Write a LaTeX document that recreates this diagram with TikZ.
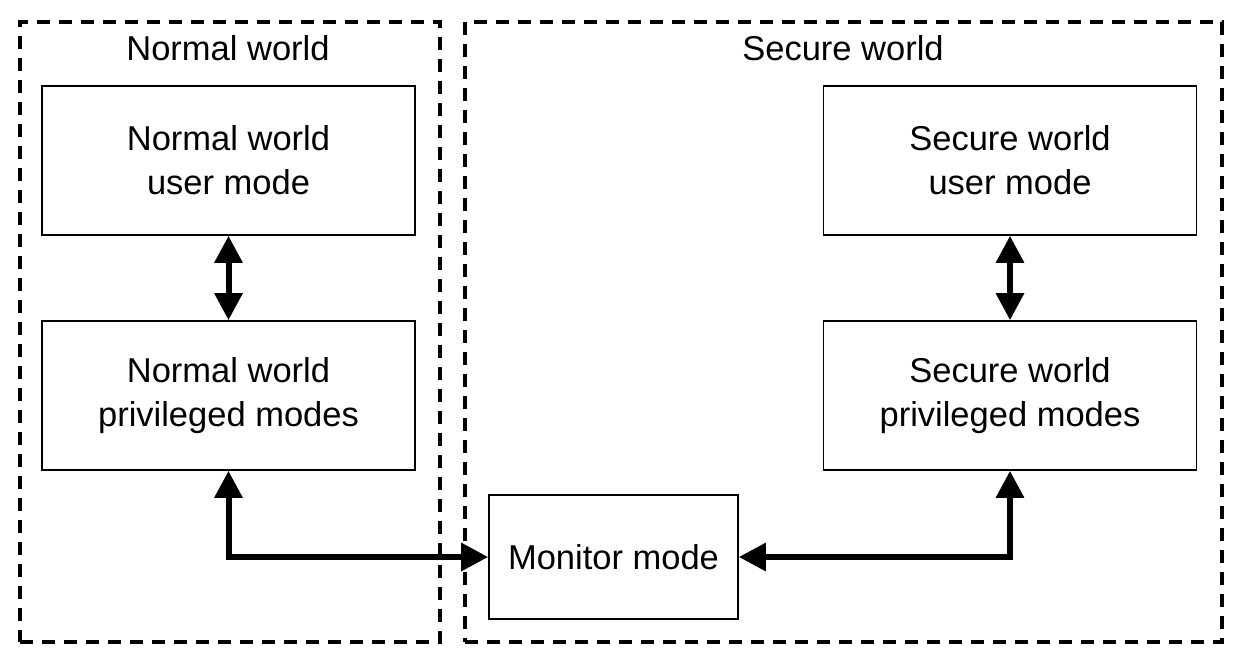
\documentclass[tikz,border=0pt]{standalone}
\usepackage{fontspec}
\setmainfont{Liberation Sans}
\usepackage{tikz}
\usetikzlibrary{arrows.meta}
\tikzstyle{block} = [draw, rectangle, line width=0.8pt, minimum width=186.5pt, minimum height=74.5pt, inner sep=0pt, align=center, font=\fontsize{17.25}{22}\selectfont]
\tikzstyle{world} = [draw, rectangle, dash pattern=on 6.5pt off 4.5pt, line width=1.9pt, inner sep=0pt]
\tikzstyle{title} = [font=\fontsize{17.25}{22}\selectfont]
\tikzstyle{path} = [{Triangle[length=13.5pt, width=13.5pt]}-{Triangle[length=13.5pt, width=13.5pt]}, line width=3pt]

\begin{document}
\begin{tikzpicture}[x=0.5pt, y=-0.5pt]
    \useasboundingbox (0, 0) rectangle (1250, 660);

    % Worlds.
    \node (normal) [world, minimum width=210pt, minimum height=310pt] at (230, 332) {};
    \node (secure) [world, minimum width=378.5pt, minimum height=310pt] at (843.5, 332) {};
    \node (normal title) [title] at (228, 48) {Normal world};
    \node (secure title) [title] at (843, 48) {Secure world};

    % Modes.
    \node (node nu) [block] at (228.5, 160.5) {Normal world\\user mode};
    \node (node np) [block] at (228.5, 395.5) {Normal world\\privileged modes};
    \node (node su) [block] at (1010, 160.5) {Secure world\\user mode};
    \node (node sp) [block] at (1010, 395.5) {Secure world\\privileged modes};
    \node (node mon) [block, minimum width=124.5pt, minimum height=62pt] at (613.5, 557) {Monitor mode};

    % Arrows.
    \draw [path] (node nu) -- (node np);
    \draw [path] (node su) -- (node sp);
    \draw [path] (node np.south) |- (node mon.west);
    \draw [path] (node sp.south) |- (node mon.east);
\end{tikzpicture}
\end{document}
